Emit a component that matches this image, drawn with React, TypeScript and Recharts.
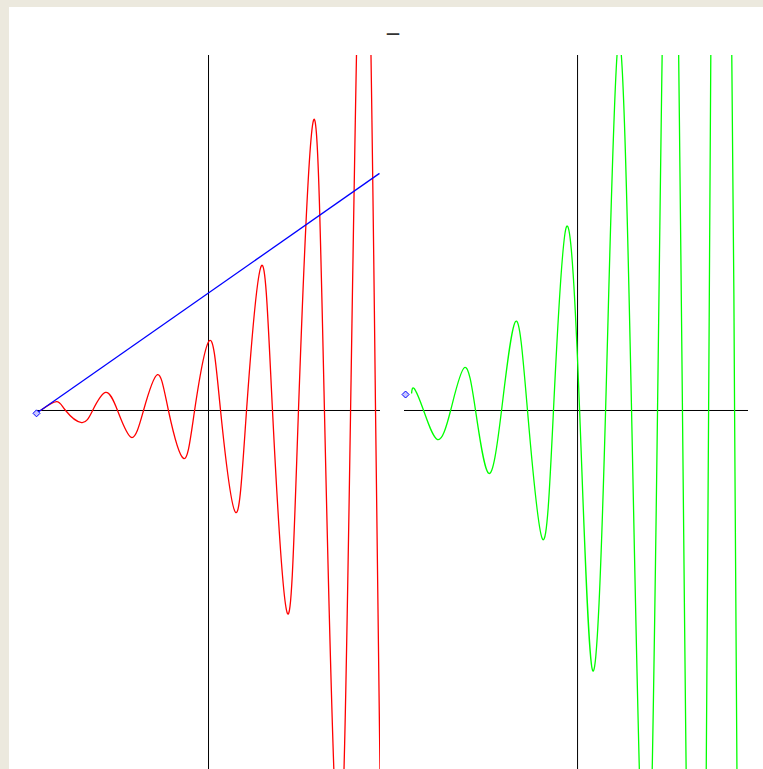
import React from 'react';
import { LineChart, Line, XAxis, YAxis, ReferenceLine, ReferenceDot } from 'recharts';

// Left panel: red growing oscillation
const redX = [-9.77, -8.84, -8.31, -7.38, -6.74, -5.99, -5.29, -4.48, -3.78, -2.97, -2.33, -1.45, -0.81, 0.06, 0.7, 1.57, 2.21, 3.08, 3.72, 4.59, 5.23, 6.1, 6.74, 7.56, 8.26, 9.07, 9.71, 10.0];
const redY = [0, 0.25, 0, -0.34, 0, 0.51, 0, -0.76, 0, 1.01, 0, -1.35, 0, 1.97, 0, -2.87, 0, 4.08, 0, -5.72, 0, 8.17, 0, -12.6, 0, 16.9, 0, -11.3];

// Left panel: blue straight line
const blueX = [-10.0, 9.94];
const blueY = [-0.08, 6.68];

// Right panel: green growing oscillation
const greenX = [-9.65, -9.5, -8.95, -8.14, -7.38, -6.57, -5.93, -5.17, -4.42, -3.6, -2.91, -2.03, -1.4, -0.64, 0.12, 0.87, 1.63, 2.38, 3.14, 3.95, 4.65, 5.38, 6.1, 6.92, 7.62, 8.37, 9.13, 9.94];
const greenY = [0.48, 0.62, 0, -0.82, 0, 1.21, 0, -1.77, 0, 2.51, 0, -3.63, 0, 5.18, 0, -7.32, 0, 10.42, 0, -14.79, 0, 20.99, 0, -29.72, 0, 42.25, 0, -60.0];

// Right panel: single blue marker
const markX = [-10.0];
const markY = [0.45];

const titleText = '\u2014';

const rows = (xs: number[], ys: number[]) => xs.map((x, i) => ({ x, y: ys[i] }));
const redRows = rows(redX, redY);
const blueRows = rows(blueX, blueY);
const greenRows = rows(greenX, greenY);

const DiamondShape = (props: any) => {
  const { cx, cy } = props;
  if (cx == null || cy == null) return <g />;
  const r = 3.5;
  return (
    <polygon
      points={`${cx},${cy - r} ${cx + r},${cy} ${cx},${cy + r} ${cx - r},${cy}`}
      fill="#c8c8ff"
      stroke="#0000ff"
      strokeWidth={1}
    />
  );
};

const W = 344;
const H = 714;
const PAD = 10;
const SW = 1.3;

export default function App() {
  return (
    <div
      style={{
        position: 'fixed',
        left: 0,
        top: 0,
        width: 763,
        height: 769,
        background: '#ECE9DE',
        overflow: 'hidden',
      }}
    >
      <div style={{ position: 'absolute', left: 9, top: 7, right: 0, bottom: 0, background: '#ffffff' }} />
      <span
        style={{
          position: 'absolute',
          left: 386,
          top: 26,
          fontFamily: 'DejaVu Sans',
          fontSize: 14,
          fontWeight: 'bold',
          lineHeight: 1,
          color: '#333333',
        }}
      >
        {titleText}
      </span>
      <div style={{ position: 'absolute', left: 36 - PAD, top: 55 }}>
        <LineChart width={W + 2 * PAD} height={H} margin={{ top: 0, right: PAD, bottom: 0, left: PAD }}>
          <XAxis type="number" dataKey="x" domain={[-10.03, 9.97]} hide allowDataOverflow />
          <YAxis type="number" domain={[-10.099, 10.014]} hide allowDataOverflow />
          <ReferenceLine x={0} stroke="#000000" strokeWidth={1} />
          <ReferenceLine y={0} stroke="#000000" strokeWidth={1} />
          <Line data={redRows} dataKey="y" type="natural" stroke="#ff0000" strokeWidth={SW} dot={false} isAnimationActive={false} />
          <Line data={blueRows} dataKey="y" type="linear" stroke="#0000ff" strokeWidth={SW} dot={false} isAnimationActive={false} />
          <ReferenceDot x={blueX[0]} y={blueY[0]} ifOverflow="visible" shape={DiamondShape} />
        </LineChart>
      </div>
      <div style={{ position: 'absolute', left: 404 - PAD, top: 55 }}>
        <LineChart width={W + 2 * PAD} height={H} margin={{ top: 0, right: PAD, bottom: 0, left: PAD }}>
          <XAxis type="number" dataKey="x" domain={[-10.09, 9.91]} hide allowDataOverflow />
          <YAxis type="number" domain={[-10.099, 10.014]} hide allowDataOverflow />
          <ReferenceLine x={0} stroke="#000000" strokeWidth={1} />
          <ReferenceLine y={0} stroke="#000000" strokeWidth={1} />
          <Line data={greenRows} dataKey="y" type="natural" stroke="#00ff00" strokeWidth={SW} dot={false} isAnimationActive={false} />
          <ReferenceDot x={markX[0]} y={markY[0]} ifOverflow="visible" shape={DiamondShape} />
        </LineChart>
      </div>
    </div>
  );
}
